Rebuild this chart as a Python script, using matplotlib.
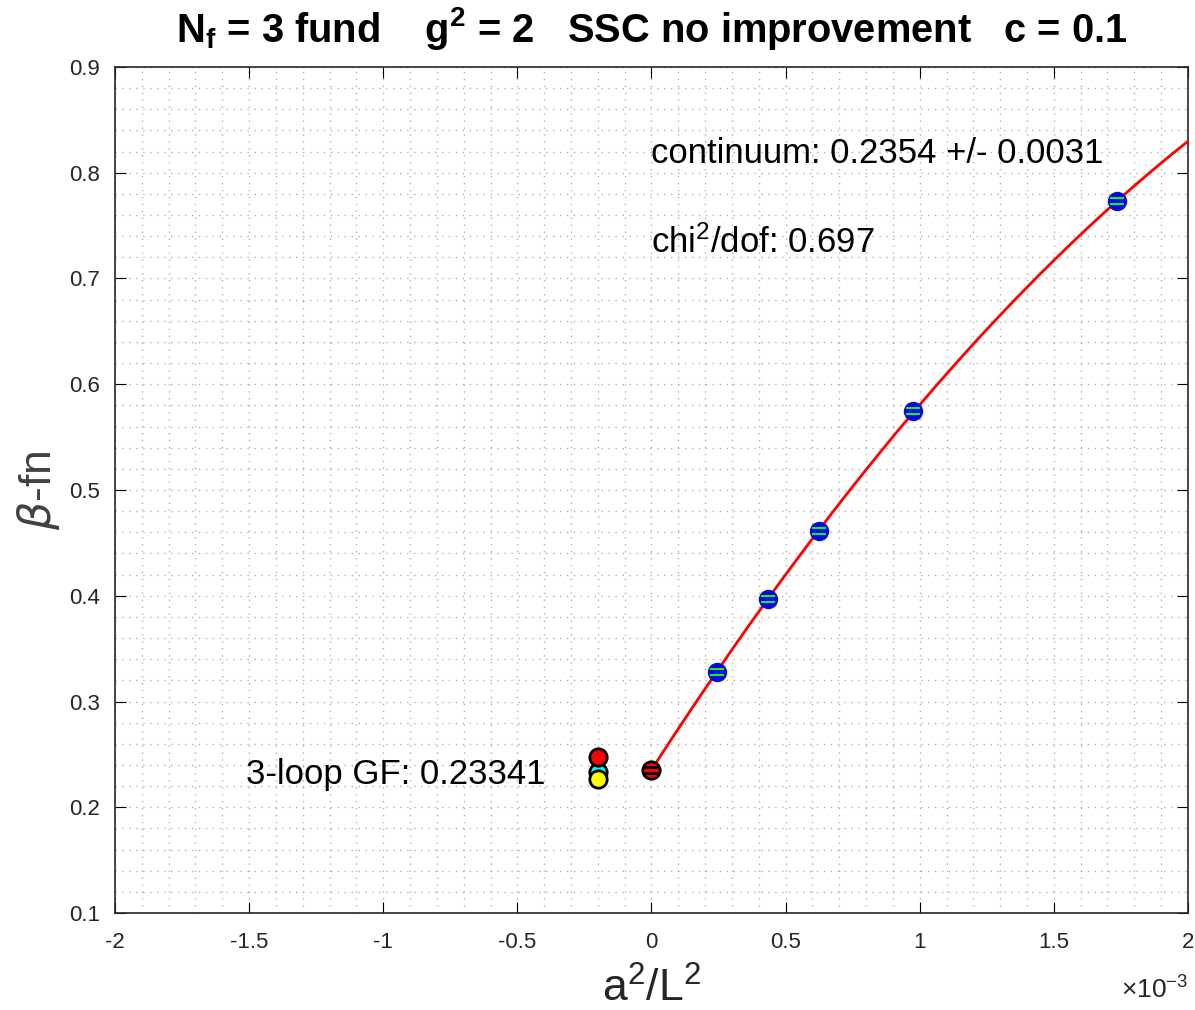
import matplotlib
matplotlib.use("Agg")
import matplotlib.pyplot as plt
from matplotlib.ticker import MultipleLocator, FuncFormatter
import numpy as np

plt.rcParams['font.family'] = ['Liberation Sans', 'DejaVu Sans']
plt.rcParams['mathtext.default'] = 'regular'

# lattice sizes and step-scaling beta function values
L = np.array([64, 48, 40, 32, 24])
a2L2 = 1.0 / L**2
beta = np.array([0.328, 0.397, 0.461, 0.575, 0.773])
beta_err = np.array([0.003, 0.003, 0.003, 0.003, 0.003])

cont_val = 0.2354
cont_err = 0.0031
chi2_dof = 0.697

# perturbative reference values, drawn back to front
pt_x = -0.2e-3
pt_vals = [0.23341, 0.2267, 0.2475]
pt_colors = ['cyan', 'yellow', 'red']

fig = plt.figure(figsize=(11.95, 10.1), dpi=100)
ax = fig.add_axes([0.0962, 0.096, 0.8979, 0.8377])

ax.set_xlim(-2e-3, 2e-3)
ax.set_ylim(0.1, 0.9)

# quadratic fit in a^2/L^2 with the continuum value held fixed
A = np.vstack([a2L2, a2L2**2]).T
coef, *_ = np.linalg.lstsq(A, beta - cont_val, rcond=None)
xf = np.linspace(0, 2e-3, 200)
ax.plot(xf, cont_val + coef[0]*xf + coef[1]*xf**2, color='red', lw=2, zorder=3)

_, caps, _ = ax.errorbar(a2L2, beta, yerr=beta_err, fmt='o', ms=12.5, mfc='blue',
                         mec='#1010c0', mew=1.5, ecolor='lime', elinewidth=0,
                         capsize=5, capthick=2.5, zorder=4)
for c in caps:
    c.set_zorder(4.5)

_, caps, _ = ax.errorbar([0], [cont_val], yerr=[cont_err], fmt='o', ms=12.5, mfc='red',
                         mec='black', mew=2, ecolor='black', elinewidth=0,
                         capsize=5, capthick=2.5, zorder=5)
for c in caps:
    c.set_zorder(5.5)

for v, c in zip(pt_vals, pt_colors):
    ax.plot(pt_x, v, 'o', ms=12.5, mfc=c, mec='black', mew=2, zorder=5)

ax.text(0, 0.818, f'continuum: {cont_val:.4f} +/- {cont_err:.4f}', fontsize=25,
        va='center', ha='left')
ax.text(0, 0.734, f'chi$^{{2}}$/dof: {chi2_dof:.3f}', fontsize=25, va='center', ha='left')
ax.text(-1.51e-3, 0.231, f'3-loop GF: {pt_vals[0]:.5f}', fontsize=25, va='center', ha='left')

ax.xaxis.set_major_locator(MultipleLocator(0.5e-3))
ax.xaxis.set_minor_locator(MultipleLocator(0.1e-3))
ax.yaxis.set_major_locator(MultipleLocator(0.1))
ax.yaxis.set_minor_locator(MultipleLocator(0.02))
ax.xaxis.set_major_formatter(FuncFormatter(lambda v, p: f'{v*1e3:g}'))
ax.yaxis.set_major_formatter(FuncFormatter(lambda v, p: f'{v:.1f}'))

ax.grid(which='both', color='#b0b0b0', ls=(0, (1, 4)), lw=1)
ax.set_axisbelow(True)
ax.tick_params(which='major', direction='in', length=8, labelsize=16,
               labelcolor='#262626', top=True, right=True)
ax.tick_params(axis='x', which='major', pad=14)
ax.tick_params(axis='y', which='major', pad=11)
ax.tick_params(which='minor', length=0)
for s in ax.spines.values():
    s.set_color('#262626')
    s.set_linewidth(1.2)

ax.text(1.0, -0.075, r'$\times10^{-3}$', transform=ax.transAxes, fontsize=19,
        ha='right', va='top', color='#262626')

ax.set_xlabel('a$^{2}$/L$^{2}$', fontsize=32, color='#262626', labelpad=10)
ax.set_ylabel(r'$\it{\beta}$-fn', fontsize=32, color='#404040', labelpad=5)
ax.set_title('N$_{f}$ = 3 fund    g$^{2}$ = 2   SSC no improvement   c = 0.1',
             fontsize=28.7, fontweight='bold', pad=18)

fig.savefig('out.png', dpi=100)
